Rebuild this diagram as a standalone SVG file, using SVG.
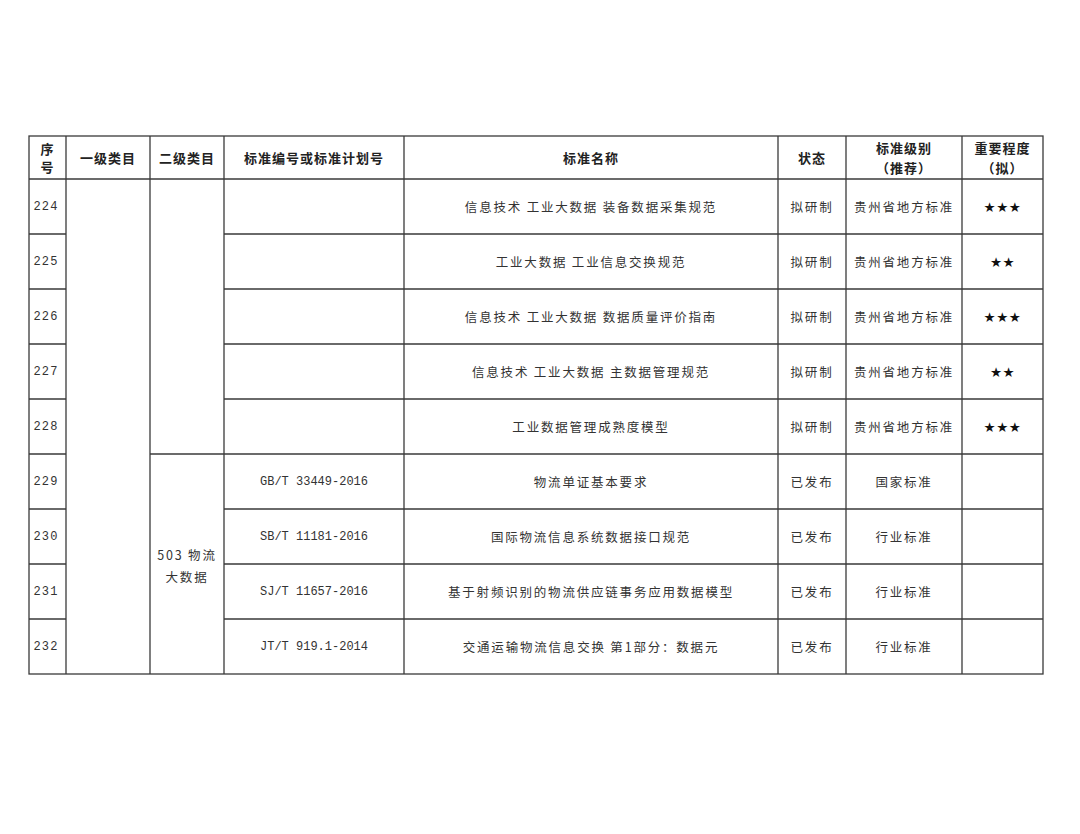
<svg xmlns="http://www.w3.org/2000/svg" width="1080" height="834" viewBox="0 0 1080 834">
<style>
.ln{stroke:#3a3a3a;stroke-width:1.3;fill:none}
.h{font-family:"Noto Sans CJK SC","Noto Sans",sans-serif;font-size:13px;font-weight:bold;fill:#222;text-anchor:middle;dominant-baseline:central;letter-spacing:1px}
.t{font-family:"Noto Sans CJK SC","Noto Sans",sans-serif;font-size:12.5px;fill:#333;text-anchor:middle;dominant-baseline:central;letter-spacing:1.8px}
.m{font-family:"Liberation Mono","Noto Sans CJK SC",monospace;font-size:12px;fill:#333;text-anchor:middle;dominant-baseline:central}
.n{font-family:"Liberation Mono",monospace;font-size:12px;fill:#333;text-anchor:middle;dominant-baseline:central;letter-spacing:1.2px}
.s{font-family:"DejaVu Sans",sans-serif;font-size:13.5px;fill:#111;text-anchor:middle;dominant-baseline:central;letter-spacing:0.5px}
</style>
<rect width="1080" height="834" fill="#fff"/>
<g id="grid">
<rect class="ln" x="29" y="136" width="1014" height="538"/>
<line class="ln" x1="29" y1="179" x2="1043" y2="179"/>
<line class="ln" x1="66" y1="136" x2="66" y2="674"/>
<line class="ln" x1="150" y1="136" x2="150" y2="674"/>
<line class="ln" x1="224" y1="136" x2="224" y2="674"/>
<line class="ln" x1="404" y1="136" x2="404" y2="674"/>
<line class="ln" x1="778" y1="136" x2="778" y2="674"/>
<line class="ln" x1="846" y1="136" x2="846" y2="674"/>
<line class="ln" x1="962" y1="136" x2="962" y2="674"/>
<path class="ln" d="M29 234H66M29 289H66M29 344H66M29 399H66M29 454H66M29 509H66M29 564H66M29 619H66"/>
<path class="ln" d="M224 234H1043M224 289H1043M224 344H1043M224 399H1043M224 509H1043M224 564H1043M224 619H1043"/>
<line class="ln" x1="150" y1="454" x2="1043" y2="454"/>
</g>
<g id="header">
<text class="h" x="47.5" y="148">序</text>
<text class="h" x="47.5" y="166">号</text>
<text class="h" x="108" y="157">一级类目</text>
<text class="h" x="187" y="157">二级类目</text>
<text class="h" x="314" y="157">标准编号或标准计划号</text>
<text class="h" x="591" y="157">标准名称</text>
<text class="h" x="812" y="157">状态</text>
<text class="h" x="904" y="147">标准级别</text>
<text class="h" x="904" y="167">（推荐）</text>
<text class="h" x="1002.5" y="147">重要程度</text>
<text class="h" x="1002.5" y="167">（拟）</text>
</g>
<g id="row224">
<text class="n" x="46" y="206.5">224</text>
<text class="t" x="591" y="206.5">信息技术 工业大数据 装备数据采集规范</text>
<text class="t" x="812" y="206.5">拟研制</text>
<text class="t" x="904" y="206.5">贵州省地方标准</text>
<text class="s" x="1002.5" y="206.5">★★★</text>
</g>
<g id="row225">
<text class="n" x="46" y="261.5">225</text>
<text class="t" x="591" y="261.5">工业大数据 工业信息交换规范</text>
<text class="t" x="812" y="261.5">拟研制</text>
<text class="t" x="904" y="261.5">贵州省地方标准</text>
<text class="s" x="1002.5" y="261.5">★★</text>
</g>
<g id="row226">
<text class="n" x="46" y="316.5">226</text>
<text class="t" x="591" y="316.5">信息技术 工业大数据 数据质量评价指南</text>
<text class="t" x="812" y="316.5">拟研制</text>
<text class="t" x="904" y="316.5">贵州省地方标准</text>
<text class="s" x="1002.5" y="316.5">★★★</text>
</g>
<g id="row227">
<text class="n" x="46" y="371.5">227</text>
<text class="t" x="591" y="371.5">信息技术 工业大数据 主数据管理规范</text>
<text class="t" x="812" y="371.5">拟研制</text>
<text class="t" x="904" y="371.5">贵州省地方标准</text>
<text class="s" x="1002.5" y="371.5">★★</text>
</g>
<g id="row228">
<text class="n" x="46" y="426.5">228</text>
<text class="t" x="591" y="426.5">工业数据管理成熟度模型</text>
<text class="t" x="812" y="426.5">拟研制</text>
<text class="t" x="904" y="426.5">贵州省地方标准</text>
<text class="s" x="1002.5" y="426.5">★★★</text>
</g>
<g id="cat503">
<text class="t" x="187" y="554">503 物流</text>
<text class="t" x="187" y="576">大数据</text>
</g>
<g id="row229">
<text class="n" x="46" y="481.5">229</text>
<text class="m" x="314" y="481.5">GB/T 33449-2016</text>
<text class="t" x="591" y="481.5">物流单证基本要求</text>
<text class="t" x="812" y="481.5">已发布</text>
<text class="t" x="904" y="481.5">国家标准</text>
</g>
<g id="row230">
<text class="n" x="46" y="536.5">230</text>
<text class="m" x="314" y="536.5">SB/T 11181-2016</text>
<text class="t" x="591" y="536.5">国际物流信息系统数据接口规范</text>
<text class="t" x="812" y="536.5">已发布</text>
<text class="t" x="904" y="536.5">行业标准</text>
</g>
<g id="row231">
<text class="n" x="46" y="591.5">231</text>
<text class="m" x="314" y="591.5">SJ/T 11657-2016</text>
<text class="t" x="591" y="591.5">基于射频识别的物流供应链事务应用数据模型</text>
<text class="t" x="812" y="591.5">已发布</text>
<text class="t" x="904" y="591.5">行业标准</text>
</g>
<g id="row232">
<text class="n" x="46" y="646.5">232</text>
<text class="m" x="314" y="646.5">JT/T 919.1-2014</text>
<text class="t" x="591" y="646.5">交通运输物流信息交换 第1部分：数据元</text>
<text class="t" x="812" y="646.5">已发布</text>
<text class="t" x="904" y="646.5">行业标准</text>
</g>
</svg>
